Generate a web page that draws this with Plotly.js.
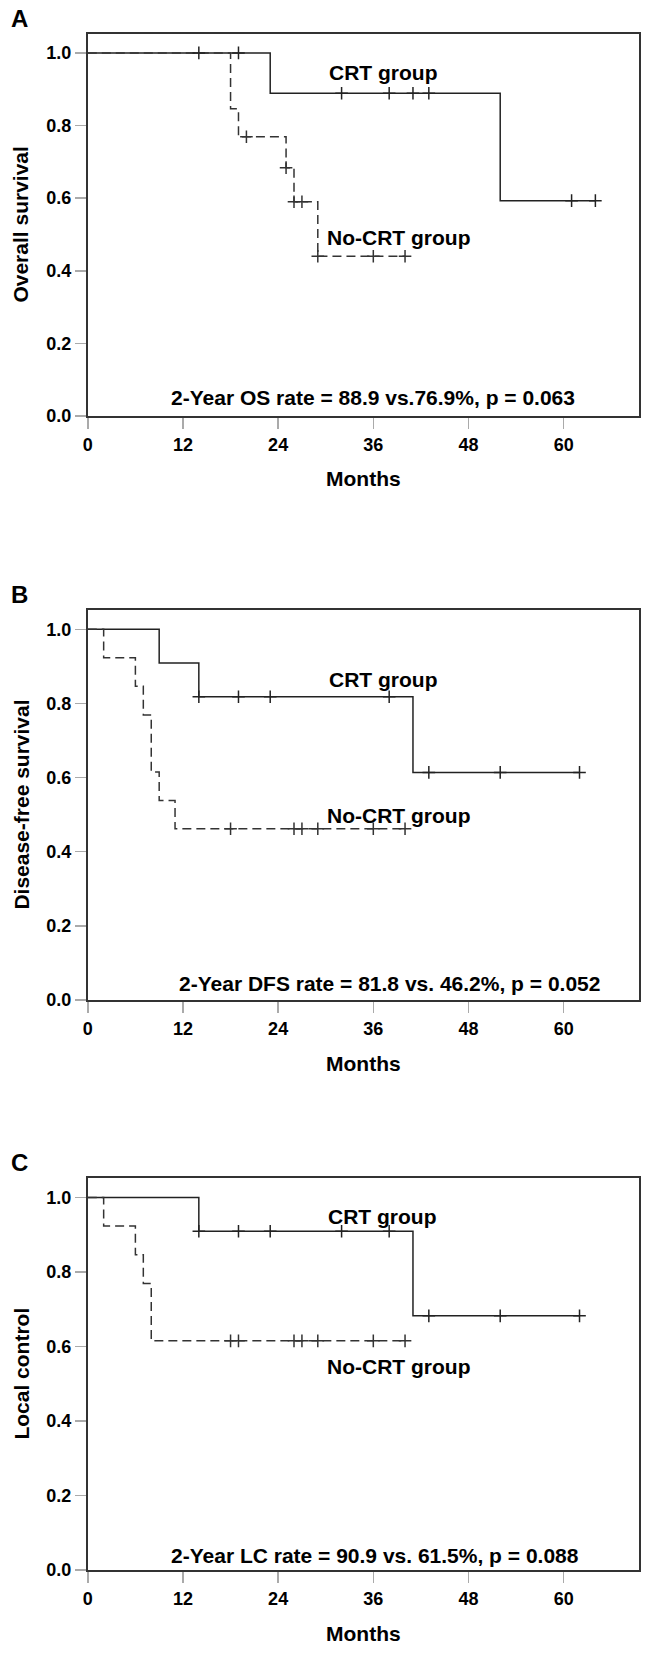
<!DOCTYPE html>
<html>
<head>
<meta charset="utf-8">
<script src="https://cdn.plot.ly/plotly-3.0.1.min.js"></script>
<style>
html,body{margin:0;padding:0;background:#fff;}
#chart{width:646px;height:1653px;}
</style>
</head>
<body>
<div id="chart"></div>
<script>
// ---------- data ----------
const monthTicks = [0, 12, 24, 36, 48, 60];
const survTicks = [0, 0.2, 0.4, 0.6, 0.8, 1.0];
const panelLetters = ["A", "B", "C"];
const yTitles = ["Overall survival", "Disease-free survival", "Local control"];
const groupNames = ["CRT group", "No-CRT group"];
const statTexts = [
  "2-Year OS rate = 88.9 vs.76.9%, p = 0.063",
  "2-Year DFS rate = 81.8 vs. 46.2%, p = 0.052",
  "2-Year LC rate = 90.9 vs. 61.5%, p = 0.088"
];

// Panel A: overall survival
const osCrtTime = [0, 23, 52, 64];
const osCrtSurv = [1.0, 0.889, 0.593, 0.593];
const osCrtCensorTime = [14, 19, 32, 38, 41, 43, 61, 64];
const osCrtCensorSurv = [1.0, 1.0, 0.889, 0.889, 0.889, 0.889, 0.593, 0.593];
const osNoTime = [0, 18, 19, 25, 26, 29, 40];
const osNoSurv = [1.0, 0.846, 0.769, 0.684, 0.59, 0.44, 0.44];
const osNoCensorTime = [20, 25, 26, 27, 29, 36, 40];
const osNoCensorSurv = [0.769, 0.684, 0.59, 0.59, 0.44, 0.44, 0.44];

// Panel B: disease-free survival
const dfsCrtTime = [0, 9, 14, 41, 62];
const dfsCrtSurv = [1.0, 0.909, 0.818, 0.614, 0.614];
const dfsCrtCensorTime = [14, 19, 23, 38, 43, 52, 62];
const dfsCrtCensorSurv = [0.818, 0.818, 0.818, 0.818, 0.614, 0.614, 0.614];
const dfsNoTime = [0, 2, 6, 7, 8, 9, 11, 40];
const dfsNoSurv = [1.0, 0.923, 0.846, 0.769, 0.615, 0.538, 0.462, 0.462];
const dfsNoCensorTime = [18, 26, 27, 29, 36, 40];
const dfsNoCensorSurv = [0.462, 0.462, 0.462, 0.462, 0.462, 0.462];

// Panel C: local control
const lcCrtTime = [0, 14, 41, 62];
const lcCrtSurv = [1.0, 0.909, 0.682, 0.682];
const lcCrtCensorTime = [14, 19, 23, 32, 38, 43, 52, 62];
const lcCrtCensorSurv = [0.909, 0.909, 0.909, 0.909, 0.909, 0.682, 0.682, 0.682];
const lcNoTime = [0, 2, 6, 7, 8, 40];
const lcNoSurv = [1.0, 0.923, 0.846, 0.769, 0.615, 0.615];
const lcNoCensorTime = [18, 19, 26, 27, 29, 36, 40];
const lcNoCensorSurv = [0.615, 0.615, 0.615, 0.615, 0.615, 0.615, 0.615];

// label anchor positions (months, survival)
const crtLabelX = [37.2, 37.2, 37.1];
const crtLabelY = [0.945, 0.865, 0.948];
const noLabelX = [39.2, 39.2, 39.2];
const noLabelY = [0.492, 0.499, 0.545];
const statX = [36.0, 38.1, 36.2];
const statY = [0.050, 0.045, 0.039];

// ---------- build ----------
const W = 646, H = 1653;
const FONT = "Liberation Sans, Arial, Helvetica, sans-serif";
const frames = [ // top, bottom in px
  [34, 416], [610, 1000], [1178, 1570]
];
const xDom = [87.8 / W, 639 / W];
const xRange = [0, 69.5];
const yRange = [0, 1.052];

const panels = [
  {crt:[osCrtTime, osCrtSurv], crtC:[osCrtCensorTime, osCrtCensorSurv], no:[osNoTime, osNoSurv], noC:[osNoCensorTime, osNoCensorSurv]},
  {crt:[dfsCrtTime, dfsCrtSurv], crtC:[dfsCrtCensorTime, dfsCrtCensorSurv], no:[dfsNoTime, dfsNoSurv], noC:[dfsNoCensorTime, dfsNoCensorSurv]},
  {crt:[lcCrtTime, lcCrtSurv], crtC:[lcCrtCensorTime, lcCrtCensorSurv], no:[lcNoTime, lcNoSurv], noC:[lcNoCensorTime, lcNoCensorSurv]}
];

const traces = [];
const layout = {
  width: W, height: H,
  margin: {l: 0, r: 0, t: 0, b: 0},
  paper_bgcolor: "#fff", plot_bgcolor: "#fff",
  showlegend: false,
  font: {family: FONT, color: "#000"},
  annotations: []
};

panels.forEach((p, i) => {
  const sfx = i === 0 ? "" : String(i + 1);
  const xa = "x" + sfx, ya = "y" + sfx;
  traces.push({x: p.crt[0], y: p.crt[1], xaxis: xa, yaxis: ya, mode: "lines",
    line: {shape: "hv", color: "#222", width: 1.5}, hoverinfo: "skip"});
  traces.push({x: p.no[0], y: p.no[1], xaxis: xa, yaxis: ya, mode: "lines",
    line: {shape: "hv", color: "#333", width: 1.5, dash: "9px,5px"}, hoverinfo: "skip"});
  traces.push({x: p.crtC[0], y: p.crtC[1], xaxis: xa, yaxis: ya, mode: "markers",
    marker: {symbol: "cross-thin", size: 9, line: {color: "#222", width: 1.5}}, hoverinfo: "skip"});
  traces.push({x: p.noC[0], y: p.noC[1], xaxis: xa, yaxis: ya, mode: "markers",
    marker: {symbol: "cross-thin", size: 9, line: {color: "#333", width: 1.5}}, hoverinfo: "skip"});

  const top = frames[i][0], bot = frames[i][1];
  layout["xaxis" + sfx] = {
    domain: xDom, range: xRange, anchor: ya,
    tickmode: "array", tickvals: monthTicks, ticktext: monthTicks.map(String),
    ticks: "outside", ticklen: 11, tickwidth: 1.5, tickcolor: "#aaa",
    showline: true, linecolor: "#333", linewidth: 2, mirror: true,
    showgrid: false, zeroline: false, fixedrange: true,
    tickfont: {family: FONT, size: 18, weight: "bold", color: "#000"}
  };
  layout["yaxis" + sfx] = {
    domain: [1 - bot / H, 1 - top / H], range: yRange, anchor: xa,
    tickmode: "array", tickvals: survTicks, ticktext: survTicks.map(v => v.toFixed(1)),
    ticks: "outside", ticklen: 11, tickwidth: 1.5, tickcolor: "#aaa",
    showline: true, linecolor: "#333", linewidth: 2, mirror: true,
    showgrid: false, zeroline: false, fixedrange: true,
    tickfont: {family: FONT, size: 18, weight: "bold", color: "#000"}
  };

  const bold21 = {family: FONT, size: 21, weight: "bold", color: "#000"};
  layout.annotations.push(
    {xref: xa, yref: ya, x: crtLabelX[i], y: crtLabelY[i], text: groupNames[0], showarrow: false,
     xanchor: "center", yanchor: "middle", font: bold21},
    {xref: xa, yref: ya, x: noLabelX[i], y: noLabelY[i], text: groupNames[1], showarrow: false,
     xanchor: "center", yanchor: "middle", font: bold21},
    {xref: xa, yref: ya, x: statX[i], y: statY[i], text: statTexts[i], showarrow: false,
     xanchor: "center", yanchor: "middle", font: bold21},
    {xref: "paper", yref: "paper", x: 20.6 / W, y: 1 - ((top + bot) / 2) / H, text: yTitles[i],
     textangle: -90, showarrow: false, xanchor: "center", yanchor: "middle", font: bold21},
    {xref: "paper", yref: "paper", x: 363.4 / W, y: 1 - (bot + 63) / H, text: "Months",
     showarrow: false, xanchor: "center", yanchor: "middle", font: bold21},
    {xref: "paper", yref: "paper", x: 19.5 / W, y: 1 - (top - 15.5) / H, text: panelLetters[i],
     showarrow: false, xanchor: "center", yanchor: "middle",
     font: {family: FONT, size: 24, weight: "bold", color: "#000"}}
  );
});

Plotly.newPlot("chart", traces, layout, {displayModeBar: false, staticPlot: true});
</script>
</body>
</html>
